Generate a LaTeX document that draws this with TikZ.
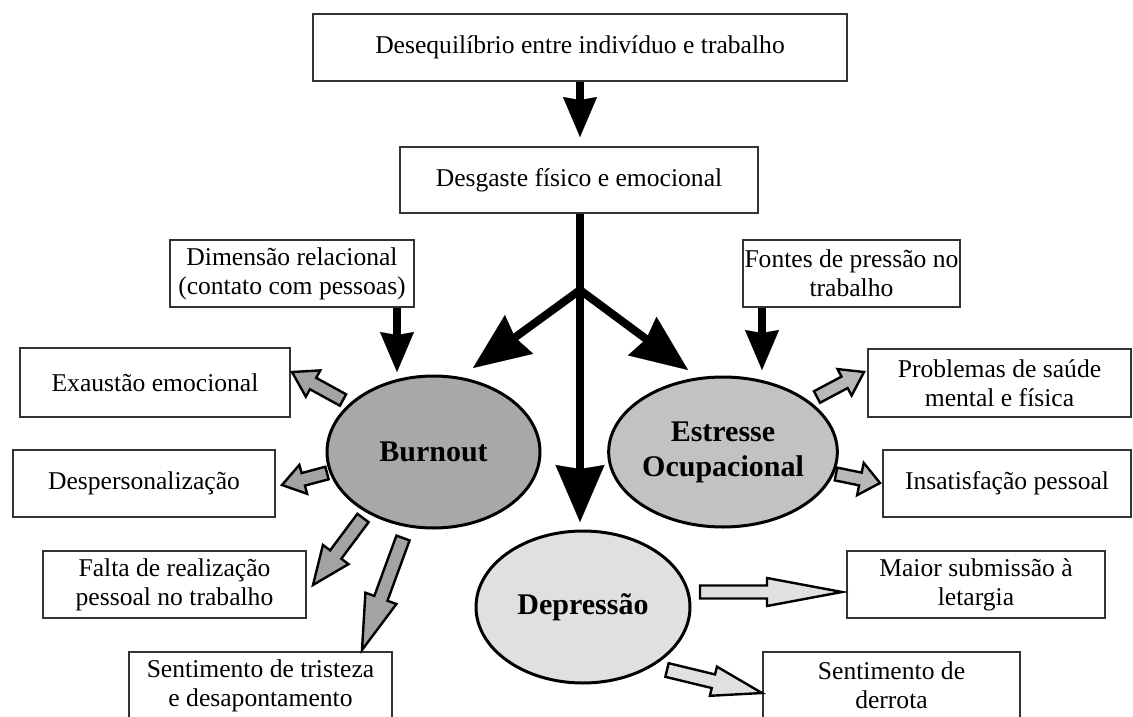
\documentclass[tikz,border=0pt]{standalone}
\usepackage{fontspec}
\setmainfont{Liberation Serif}
\usetikzlibrary{arrows.meta,calc,shapes.geometric}

% outlined block arrow: fill, tail, tip, shaft width, head width, head length
\newcommand\blockarrow[6]{%
  \coordinate (ba-h) at ($(#3)!#6!(#2)$);
  \draw[blockline, fill=#1]
    ($(#2)!#4*0.5!90:(#3)$) -- ($(ba-h)!#4*0.5!90:(#3)$) --
    ($(ba-h)!#5*0.5!90:(#3)$) -- (#3) --
    ($(ba-h)!#5*0.5!-90:(#3)$) -- ($(ba-h)!#4*0.5!-90:(#3)$) --
    ($(#2)!#4*0.5!-90:(#3)$) -- cycle;}

\tikzset{
  box/.style={draw=black!80, line width=1.6pt, fill=white, inner sep=0pt,
    align=center, font=\fontsize{25.6}{29}\selectfont},
  bubble/.style={ellipse, draw=black, line width=3pt, inner sep=0pt,
    minimum width=213pt, minimum height=152pt, align=center,
    font=\fontsize{30}{34}\selectfont\bfseries},
  blockline/.style={draw=black, line width=2.4pt, line join=miter},
  blk/.style={line width=8pt, draw=black},
  headS/.style={-{Stealth[length=40pt, width=34pt, inset=3pt, line width=0.1pt]}},
  headM/.style={-{Stealth[length=57pt, width=48pt, inset=5pt, line width=0.1pt]}},
  headL/.style={-{Stealth[length=57pt, width=49pt, inset=4pt, line width=0.1pt]}},
}

\begin{document}
\begin{tikzpicture}[x=1pt, y=1pt]
\useasboundingbox (0,0) rectangle (1133,-717);

% text boxes
\node[box, minimum width=534pt, minimum height=67pt] (desequ) at (580,-47.5) {Desequilíbrio entre indivíduo e trabalho};
\node[box, minimum width=358pt, minimum height=66pt] (desg) at (579,-180) {Desgaste físico e emocional};
\node[box, minimum width=244pt, minimum height=67pt] (dimen) at (292,-273.5) {Dimensão relacional\\(contato com pessoas)};
\node[box, minimum width=217pt, minimum height=67pt] (fontes) at (851.5,-273.5) {Fontes de pressão no\\trabalho};
\node[box, minimum width=270pt, minimum height=69pt] (exaus) at (155,-382.5) {Exaustão emocional};
\node[box, minimum width=262pt, minimum height=67pt] (despers) at (144,-483.5) {Despersonalização};
\node[box, minimum width=263pt, minimum height=67pt] (falta) at (174.5,-584.5) {Falta de realização\\pessoal no trabalho};
\node[box, minimum width=263pt, minimum height=67pt] (trist) at (260.5,-685.5) {Sentimento de tristeza\\e desapontamento};
\node[box, minimum width=263pt, minimum height=68pt] (probl) at (999.5,-383) {Problemas de saúde\\mental e física};
\node[box, minimum width=248pt, minimum height=67pt] (insat) at (1007,-483.5) {Insatisfação pessoal};
\node[box, minimum width=258pt, minimum height=67pt] (maior) at (976,-584.5) {Maior submissão à\\letargia};
\node[box, minimum width=257pt, minimum height=67pt] (derrota) at (891.5,-685.5) {Sentimento de\\derrota};

% central states
\node[bubble, fill=black!34] (burnout) at (433.5,-452) {Burnout};
\node[bubble, fill=black!24, minimum width=212pt, minimum height=150pt] (estresse) at (723,-452) {Estresse\\[1pt]Ocupacional};
\node[bubble, fill=black!12, minimum width=214pt] (depr) at (583,-607) {Depressão};

% arrow ends
\coordinate (tipT) at (580,-137);
\coordinate (j) at (580,-290);
\coordinate (tipD) at (580,-522);
\coordinate (tipB) at (473,-368);
\coordinate (tipE) at (688,-370);
\coordinate (tipDim) at (397,-372);
\coordinate (tipF) at (762,-370);

% black flow arrows
\draw[blk, headS] (desequ.south) -- (tipT);
\draw[blk, headL] (desg.south -| j) -- (tipD);
\draw[blk, headM] (j) -- (tipB);
\draw[blk, headM] (j) -- (tipE);
\draw[blk, headS] (dimen.south -| tipDim) -- (tipDim);
\draw[blk, headS] (fontes.south -| tipF) -- (tipF);

% outlined consequence arrows
\coordinate (b1s) at (343,-400);   \coordinate (b1t) at (292,-372);
\coordinate (b2s) at (327,-473);   \coordinate (b2t) at (282,-485);
\coordinate (b3s) at (363,-518);   \coordinate (b3t) at (313,-585);
\coordinate (b4s) at (403,-538);   \coordinate (b4t) at (362,-650);
\coordinate (e1s) at (817,-397);   \coordinate (e1t) at (864,-372);
\coordinate (e2s) at (836,-474);   \coordinate (e2t) at (880,-483);
\coordinate (d1s) at (700,-592);   \coordinate (d1t) at (842,-592);
\coordinate (d2s) at (667,-670);   \coordinate (d2t) at (762,-693);

\blockarrow{black!36}{b1s}{b1t}{13pt}{30pt}{24pt}
\blockarrow{black!36}{b2s}{b2t}{13pt}{30pt}{22pt}
\blockarrow{black!36}{b3s}{b3t}{14pt}{32pt}{38pt}
\blockarrow{black!36}{b4s}{b4t}{14pt}{33pt}{55pt}
\blockarrow{black!28}{e1s}{e1t}{13pt}{30pt}{22pt}
\blockarrow{black!28}{e2s}{e2t}{13pt}{33pt}{20pt}
\blockarrow{black!12}{d1s}{d1t}{13pt}{28pt}{75pt}
\blockarrow{black!12}{d2s}{d2t}{14pt}{30pt}{50pt}
\end{tikzpicture}
\end{document}
